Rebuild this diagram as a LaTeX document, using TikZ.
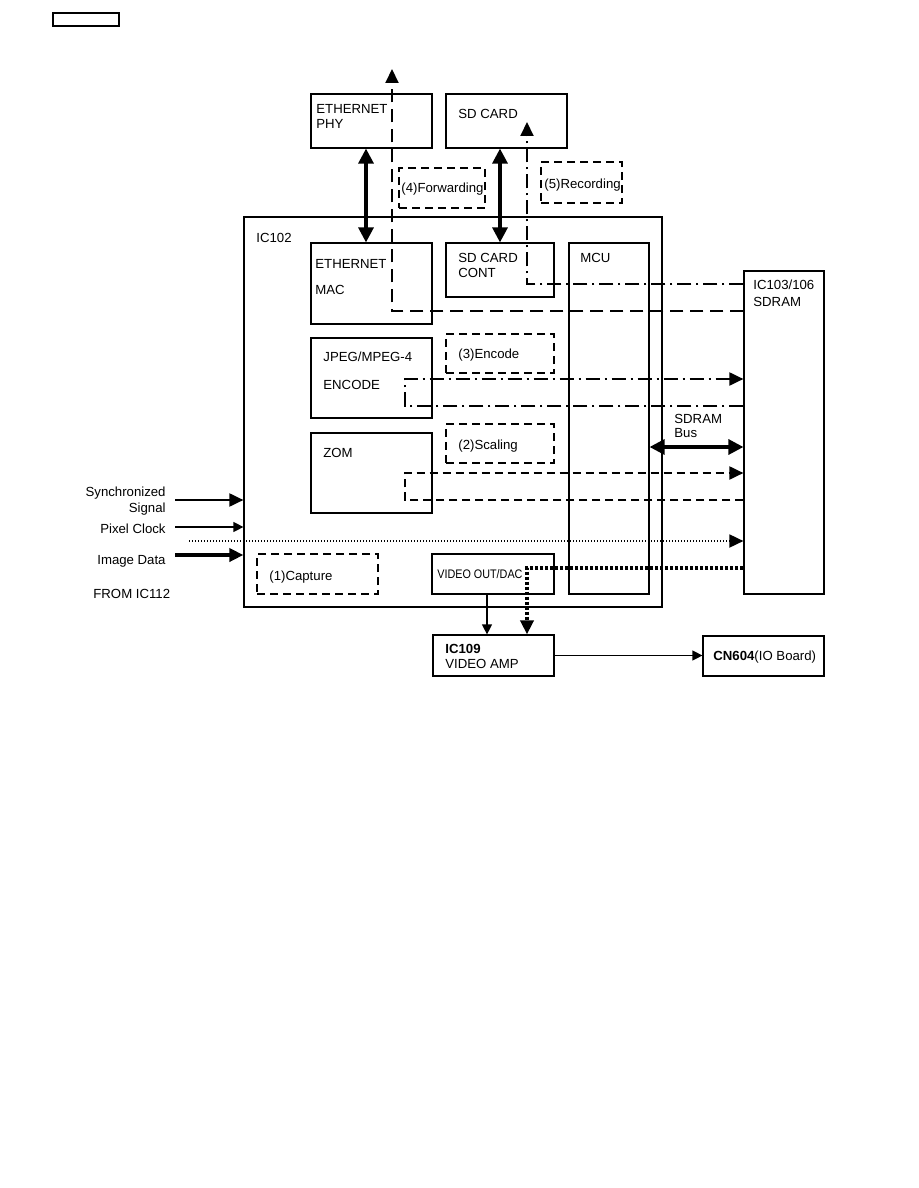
\documentclass[tikz,border=0pt]{standalone}
\usepackage{fontspec}
\setmainfont{Liberation Sans}
\usetikzlibrary{arrows.meta, positioning, fit, calc}

\newcommand{\lbl}{\fontsize{6.6}{8}\selectfont}
\newcommand{\smalllbl}{\fontsize{6.2}{7}\selectfont}

\tikzset{
  blk/.style={draw, line width=0.6pt, inner sep=0pt},
  procbox/.style={draw, line width=1pt, dash pattern=on 4pt off 2.5pt, inner sep=0pt},
  txt/.style={font=\lbl, inner sep=0pt, anchor=base west},
  rtxt/.style={font=\lbl, inner sep=0pt, anchor=base east},
  tip/.style={-{Triangle[length=7pt,width=6.5pt]}},
  smalltip/.style={-{Triangle[length=5pt,width=5pt]}},
  bus/.style={line width=1.6pt, {Triangle[length=7.5pt,width=7.5pt]}-{Triangle[length=7.5pt,width=7.5pt]}},
  fwdline/.style={line width=1pt, dash pattern=on 6.5pt off 3.5pt},
  dashdot/.style={line width=1pt, dash pattern=on 7pt off 2.5pt on 1pt off 2.5pt},
  shortdash/.style={line width=1pt, dash pattern=on 4pt off 2.5pt},
  dotline/.style={line width=0.9pt, dash pattern=on 0.7pt off 0.8pt},
  heavydot/.style={line width=1.8pt, dash pattern=on 1.5pt off 1pt},
}

\begin{document}
\begin{tikzpicture}[x=0.5pt, y=-0.5pt]
  \useasboundingbox (0,0) rectangle (918,1188);

  % page tag
  \node[blk, line width=0.8pt, fit={(53,13) (119,26)}] (tag) {};

  % outer chip
  \node[blk, fit={(244,217) (662,607)}] (ic102) {};
  \node[txt] (ic102 l) at (256,242) {IC102};

  % external blocks
  \node[blk, fit={(311,94) (432,148)}] (ephy) {};
  \node[txt] (ephy l1) at (316,113) {ETHERNET};
  \node[txt] (ephy l2) at (316,128) {PHY};
  \node[blk, fit={(446,94) (567,148)}] (sdcard) {};
  \node[txt] (sdcard l) at (458,119) {SD CARD};

  % internal blocks
  \node[blk, fit={(311,243) (432,324)}] (emac) {};
  \node[txt] (emac l1) at (315,268) {ETHERNET};
  \node[txt] (emac l2) at (315,294) {MAC};
  \node[blk, fit={(446,243) (554,297)}] (sdcont) {};
  \node[txt] (sdcont l1) at (458,262) {SD CARD};
  \node[txt] (sdcont l2) at (458,277) {CONT};
  \node[blk, fit={(569,243) (649,594)}] (mcu) {};
  \node[txt] (mcu l) at (580,262) {MCU};
  \node[blk, fit={(311,338) (432,418)}] (jpeg) {};
  \node[txt] (jpeg l1) at (323,361) {JPEG/MPEG-4};
  \node[txt] (jpeg l2) at (323,389) {ENCODE};
  \node[blk, fit={(311,433) (432,513)}] (zom) {};
  \node[txt] (zom l) at (323,457) {ZOM};
  \node[blk, fit={(432,554) (554,594)}] (dac) {};
  \node[txt, font=\smalllbl] (dac l) at (437,578) {\scalebox{0.87}[1]{VIDEO OUT/DAC}};

  % memory and output
  \node[blk, fit={(744,271) (824,594)}] (sdram) {};
  \node[txt] (sdram l1) at (753,289) {IC103/106};
  \node[txt] (sdram l2) at (753,306) {SDRAM};
  \node[blk, fit={(433,635) (554,676)}] (amp) {};
  \node[txt] (amp l1) at (445,653) {\textbf{IC109}};
  \node[txt] (amp l2) at (445,668) {VIDEO AMP};
  \node[blk, fit={(703,636) (824,676)}] (cn) {};
  \node[txt] (cn l) at (713,660) {\textbf{CN604}(IO Board)};

  % processing steps
  \node[procbox, fit={(399,168) (485,208)}] (fwd) {};
  \node[txt] (fwd l) at (401,192) {(4)Forwarding};
  \node[procbox, fit={(541,162) (622,203)}] (rec) {};
  \node[txt] (rec l) at (544,188) {(5)Recording};
  \node[procbox, fit={(446,334) (554,373)}] (enc) {};
  \node[txt] (enc l) at (458,358) {(3)Encode};
  \node[procbox, fit={(446,424) (554,463)}] (scl) {};
  \node[txt] (scl l) at (458,449) {(2)Scaling};
  \node[procbox, fit={(257,554) (378,594)}] (cap) {};
  \node[txt] (cap l) at (269,580) {(1)Capture};

  % input labels
  \node[rtxt] (sync l1) at (166,496) {Synchronized};
  \node[rtxt] (sync l2) at (166,512) {Signal};
  \node[rtxt] (pix l) at (166,533) {Pixel Clock};
  \node[rtxt] (img l) at (166,564) {Image Data};
  \node[txt] (from l) at (93,598) {FROM IC112};
  \node[txt] (bus l1) at (674,423) {SDRAM};
  \node[txt] (bus l2) at (674,437) {Bus};

  % path corners
  \coordinate (eth x) at (366,0);
  \coordinate (sd x) at (500,0);
  \coordinate (dac x) at (487,0);
  \coordinate (bus y) at (0,447);
  \coordinate (fwd corner) at (392,311);
  \coordinate (fwd end) at (392,69);
  \coordinate (rec corner) at (527,284);
  \coordinate (rec end) at (527,122);
  \coordinate (enc in) at (405,379);
  \coordinate (enc out) at (405,406);
  \coordinate (scl in) at (405,473);
  \coordinate (scl out) at (405,500);
  \coordinate (cap start) at (189,541);
  \coordinate (vid corner) at (527,568);
  \coordinate (sync in) at (175,500);
  \coordinate (pix in) at (175,527);
  \coordinate (img in) at (175,555);

  % buses
  \draw[bus] (ephy.south -| eth x) -- (emac.north -| eth x);
  \draw[bus] (sdcard.south -| sd x) -- (sdcont.north -| sd x);
  \draw[bus] (mcu.east |- bus y) -- (sdram.west |- bus y);

  % data flows
  \draw[fwdline, tip] (sdram.west |- fwd corner) -- (fwd corner) -- (fwd end);
  \draw[dashdot, tip] (sdram.west |- rec corner) -- (rec corner) -- (rec end);
  \draw[dashdot, tip] (sdram.west |- enc out) -- (enc out) -- (enc in) -- (sdram.west |- enc in);
  \draw[shortdash, tip] (sdram.west |- scl out) -- (scl out) -- (scl in) -- (sdram.west |- scl in);
  \draw[dotline, tip] (cap start) -- (sdram.west |- cap start);
  \draw[heavydot, tip] (sdram.west |- vid corner) -- (vid corner) -- (vid corner |- amp.north);

  % signals
  \draw[line width=0.6pt, smalltip] (dac.south -| dac x) -- (amp.north -| dac x);
  \draw[line width=0.6pt, smalltip] (amp.east) -- (amp.east -| cn.west);
  \draw[line width=1pt, tip] (sync in) -- (sync in -| ic102.west);
  \draw[line width=0.6pt, smalltip] (pix in) -- (pix in -| ic102.west);
  \draw[line width=2pt, tip] (img in) -- (img in -| ic102.west);
\end{tikzpicture}
\end{document}
